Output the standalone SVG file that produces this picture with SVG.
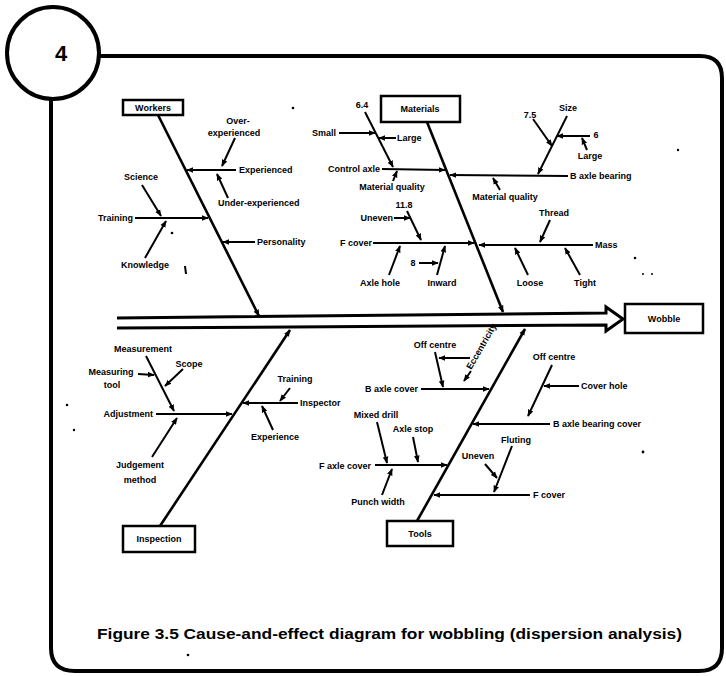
<svg xmlns="http://www.w3.org/2000/svg" width="726" height="676" viewBox="0 0 726 676">
<style>
text{font-family:"Liberation Sans",Arial,sans-serif;font-weight:bold;fill:#000}
.l{font-size:9px}
.c{text-anchor:middle}
.e{text-anchor:end}
.box{fill:#fff;stroke:#000;stroke-width:2.5}
.bone{fill:none;stroke:#000;stroke-width:2.6;marker-end:url(#ah)}
.sub{fill:none;stroke:#000;stroke-width:2;marker-end:url(#ah)}
.ln{fill:none;stroke:#000;stroke-width:2}
.frame{fill:none;stroke:#000;stroke-width:4}
.dot{fill:#000}
</style>
<defs>
<marker id="ah" viewBox="0 0 10 10" refX="9" refY="5" markerWidth="7" markerHeight="7" markerUnits="userSpaceOnUse" orient="auto">
<path d="M0,1 L10,5 L0,9 z" fill="#000"/>
</marker>
</defs>
<rect width="726" height="676" fill="#fff"/>

<g id="frame">
<path class="frame" d="M99,56 L700,56 Q722,56 722,78 L722,648 Q722,671 699,671 L75,671 Q51,671 51,648 L51,99"/>
<circle cx="53" cy="53" r="46" fill="#fff" stroke="#000" stroke-width="4"/>
<text x="61" y="61" class="c" style="font-size:22px">4</text>
</g>

<g id="spine">
<path d="M117,318 L606,313 L606,307 L623,319 L606,331 L606,325 L117,328" fill="none" stroke="#000" stroke-width="3" stroke-linejoin="miter"/>
</g>

<g id="connectors">
<!-- main bones -->
<line class="bone" x1="158" y1="115" x2="259" y2="316"/>
<line class="bone" x1="427" y1="122" x2="503" y2="312"/>
<line class="bone" x1="160" y1="526" x2="290" y2="330"/>
<line class="bone" x1="417" y1="521" x2="525" y2="329"/>
<!-- workers -->
<line class="sub" x1="236" y1="170" x2="187" y2="170"/>
<line class="sub" x1="235" y1="138" x2="222" y2="166"/>
<line class="sub" x1="228" y1="198" x2="217" y2="174"/>
<line class="sub" x1="135" y1="218" x2="208" y2="218"/>
<line class="sub" x1="142" y1="185" x2="161" y2="216"/>
<line class="sub" x1="145" y1="258" x2="166" y2="221"/>
<line class="sub" x1="255" y1="242" x2="223" y2="242"/>
<!-- materials -->
<line class="sub" x1="365" y1="112" x2="393" y2="167"/>
<line class="sub" x1="339" y1="133" x2="375" y2="133"/>
<line class="sub" x1="396" y1="138" x2="379" y2="138"/>
<line class="sub" x1="382" y1="169" x2="445" y2="170"/>
<line class="sub" x1="568" y1="176" x2="450" y2="175"/>
<line class="sub" x1="393" y1="181" x2="397" y2="171"/>
<line class="sub" x1="500" y1="190" x2="493" y2="178"/>
<line class="sub" x1="567" y1="116" x2="538" y2="174"/>
<line class="sub" x1="533" y1="119" x2="552" y2="146"/>
<line class="sub" x1="590" y1="136" x2="557" y2="136"/>
<line class="sub" x1="587" y1="150" x2="582" y2="138"/>
<line class="sub" x1="373" y1="243" x2="474" y2="243"/>
<line class="sub" x1="593" y1="245" x2="479" y2="245"/>
<line class="sub" x1="394" y1="218" x2="410" y2="218"/>
<line class="sub" x1="407" y1="211" x2="421" y2="240"/>
<line class="sub" x1="389" y1="275" x2="400" y2="246"/>
<line class="sub" x1="437" y1="275" x2="445" y2="246"/>
<line class="sub" x1="419" y1="263" x2="438" y2="263"/>
<line class="sub" x1="550" y1="220" x2="540" y2="242"/>
<line class="sub" x1="528" y1="275" x2="515" y2="248"/>
<line class="sub" x1="580" y1="275" x2="565" y2="248"/>
<!-- inspection -->
<line class="sub" x1="156" y1="414" x2="232" y2="414"/>
<line class="sub" x1="146" y1="356" x2="174" y2="411"/>
<line class="sub" x1="138" y1="374" x2="154" y2="375"/>
<line class="sub" x1="183" y1="369" x2="165" y2="386"/>
<line class="sub" x1="152" y1="457" x2="177" y2="418"/>
<line class="sub" x1="298" y1="403" x2="243" y2="403"/>
<line class="sub" x1="290" y1="388" x2="280" y2="401"/>
<line class="sub" x1="273" y1="430" x2="262" y2="406"/>
<!-- tools -->
<line class="sub" x1="421" y1="389" x2="489" y2="389"/>
<line class="sub" x1="435" y1="352" x2="443" y2="387"/>
<line class="sub" x1="470" y1="358" x2="439" y2="358"/>
<line class="sub" x1="471" y1="371" x2="464" y2="381"/>
<line class="sub" x1="552" y1="365" x2="528" y2="416"/>
<line class="sub" x1="579" y1="386" x2="544" y2="386"/>
<line class="sub" x1="550" y1="424" x2="473" y2="424"/>
<line class="sub" x1="375" y1="465" x2="447" y2="465"/>
<line class="sub" x1="377" y1="422" x2="387" y2="463"/>
<line class="sub" x1="413" y1="437" x2="418" y2="462"/>
<line class="sub" x1="382" y1="495" x2="392" y2="469"/>
<line class="sub" x1="530" y1="495" x2="434" y2="495"/>
<line class="sub" x1="512" y1="446" x2="494" y2="492"/>
<line class="sub" x1="485" y1="464" x2="497" y2="478"/>
</g>

<g id="workers"><rect class="box" x="123" y="100" width="60" height="15"/><text class="l c" x="153" y="111">Workers</text></g>
<g id="over-experienced"><text class="l c" x="238" y="124">Over-</text><text class="l c" x="234" y="136">experienced</text></g>
<g id="experienced"><text class="l" x="239" y="173">Experienced</text></g>
<g id="under-experienced"><text class="l" x="218" y="206">Under-experienced</text></g>
<g id="science"><text class="l c" x="141" y="180">Science</text></g>
<g id="training-w"><text class="l e" x="133" y="221">Training</text></g>
<g id="knowledge"><text class="l c" x="145" y="268">Knowledge</text><line class="ln" x1="185" y1="266" x2="186" y2="274"/></g>
<g id="personality"><text class="l" x="257" y="245">Personality</text></g>

<g id="materials"><rect class="box" x="381" y="96" width="79" height="26"/><text class="l c" x="420" y="112">Materials</text></g>
<g id="v64"><text class="l c" x="362" y="108">6.4</text></g>
<g id="small"><text class="l" x="312" y="136">Small</text></g>
<g id="large1"><text class="l" x="397" y="141">Large</text></g>
<g id="control-axle"><text class="l e" x="380" y="172">Control axle</text></g>
<g id="material-quality1"><text class="l c" x="392" y="190">Material quality</text></g>
<g id="b-axle-bearing"><text class="l" x="570" y="179">B axle bearing</text></g>
<g id="material-quality2"><text class="l c" x="505" y="200">Material quality</text></g>
<g id="size"><text class="l c" x="568" y="111">Size</text></g>
<g id="v75"><text class="l c" x="530" y="118">7.5</text></g>
<g id="v6"><text class="l c" x="596" y="138">6</text></g>
<g id="large2"><text class="l c" x="590" y="159">Large</text></g>
<g id="v118"><text class="l c" x="404" y="208">11.8</text></g>
<g id="uneven1"><text class="l e" x="393" y="221">Uneven</text></g>
<g id="f-cover1"><text class="l e" x="372" y="246">F cover</text></g>
<g id="mass"><text class="l" x="595" y="248">Mass</text></g>
<g id="v8"><text class="l c" x="413" y="266">8</text></g>
<g id="axle-hole"><text class="l c" x="380" y="286">Axle hole</text></g>
<g id="inward"><text class="l c" x="442" y="286">Inward</text></g>
<g id="thread"><text class="l c" x="554" y="216">Thread</text></g>
<g id="loose"><text class="l c" x="530" y="286">Loose</text></g>
<g id="tight"><text class="l c" x="585" y="286">Tight</text></g>

<g id="wobble"><rect class="box" x="625" y="304" width="78" height="29"/><text class="l c" x="664" y="322">Wobble</text></g>

<g id="inspection"><rect class="box" x="123" y="526" width="72" height="26"/><text class="l c" x="159" y="542">Inspection</text></g>
<g id="measurement"><text class="l c" x="143" y="352">Measurement</text></g>
<g id="measuring-tool"><text class="l c" x="111" y="375">Measuring</text><text class="l c" x="112" y="388">tool</text></g>
<g id="scope"><text class="l c" x="189" y="367">Scope</text></g>
<g id="adjustment"><text class="l e" x="153" y="417">Adjustment</text></g>
<g id="judgement-method"><text class="l c" x="140" y="468">Judgement</text><text class="l c" x="140" y="483">method</text></g>
<g id="training-i"><text class="l c" x="295" y="382">Training</text></g>
<g id="inspector"><text class="l" x="300" y="406">Inspector</text></g>
<g id="experience"><text class="l c" x="275" y="440">Experience</text></g>

<g id="tools"><rect class="box" x="387" y="521" width="66" height="25"/><text class="l c" x="420" y="537">Tools</text></g>
<g id="off-centre1"><text class="l c" x="435" y="348">Off centre</text></g>
<g id="b-axle-cover"><text class="l e" x="418" y="392">B axle cover</text></g>
<g id="eccentricity"><text class="l c" transform="translate(484,348) rotate(-60)">Eccentricity</text></g>
<g id="off-centre2"><text class="l c" x="554" y="360">Off centre</text></g>
<g id="cover-hole"><text class="l" x="581" y="389">Cover hole</text></g>
<g id="b-axle-bearing-cover"><text class="l" x="553" y="427">B axle bearing cover</text></g>
<g id="mixed-drill"><text class="l c" x="376" y="418">Mixed drill</text></g>
<g id="axle-stop"><text class="l c" x="413" y="432">Axle stop</text></g>
<g id="f-axle-cover"><text class="l e" x="371" y="469">F axle cover</text></g>
<g id="punch-width"><text class="l c" x="378" y="505">Punch width</text></g>
<g id="fluting"><text class="l c" x="516" y="443">Fluting</text></g>
<g id="uneven2"><text class="l c" x="478" y="459">Uneven</text></g>
<g id="f-cover2"><text class="l" x="533" y="498">F cover</text></g>

<g id="caption"><text x="97" y="639" style="font-size:14px" textLength="585" lengthAdjust="spacingAndGlyphs">Figure 3.5  Cause-and-effect diagram for wobbling (dispersion analysis)</text></g>

<g id="specks">
<circle class="dot" cx="293" cy="108" r="1.3"/>
<circle class="dot" cx="172" cy="233" r="1.3"/>
<circle class="dot" cx="678" cy="150" r="1.2"/>
<circle class="dot" cx="635" cy="258" r="1.3"/>
<circle class="dot" cx="643" cy="274" r="1"/>
<circle class="dot" cx="652" cy="274" r="1"/>
<circle class="dot" cx="67" cy="405" r="1.3"/>
<circle class="dot" cx="74" cy="430" r="1.2"/>
<circle class="dot" cx="643" cy="452" r="1.4"/>
<circle class="dot" cx="188" cy="655" r="1.3"/>
</g>
</svg>
